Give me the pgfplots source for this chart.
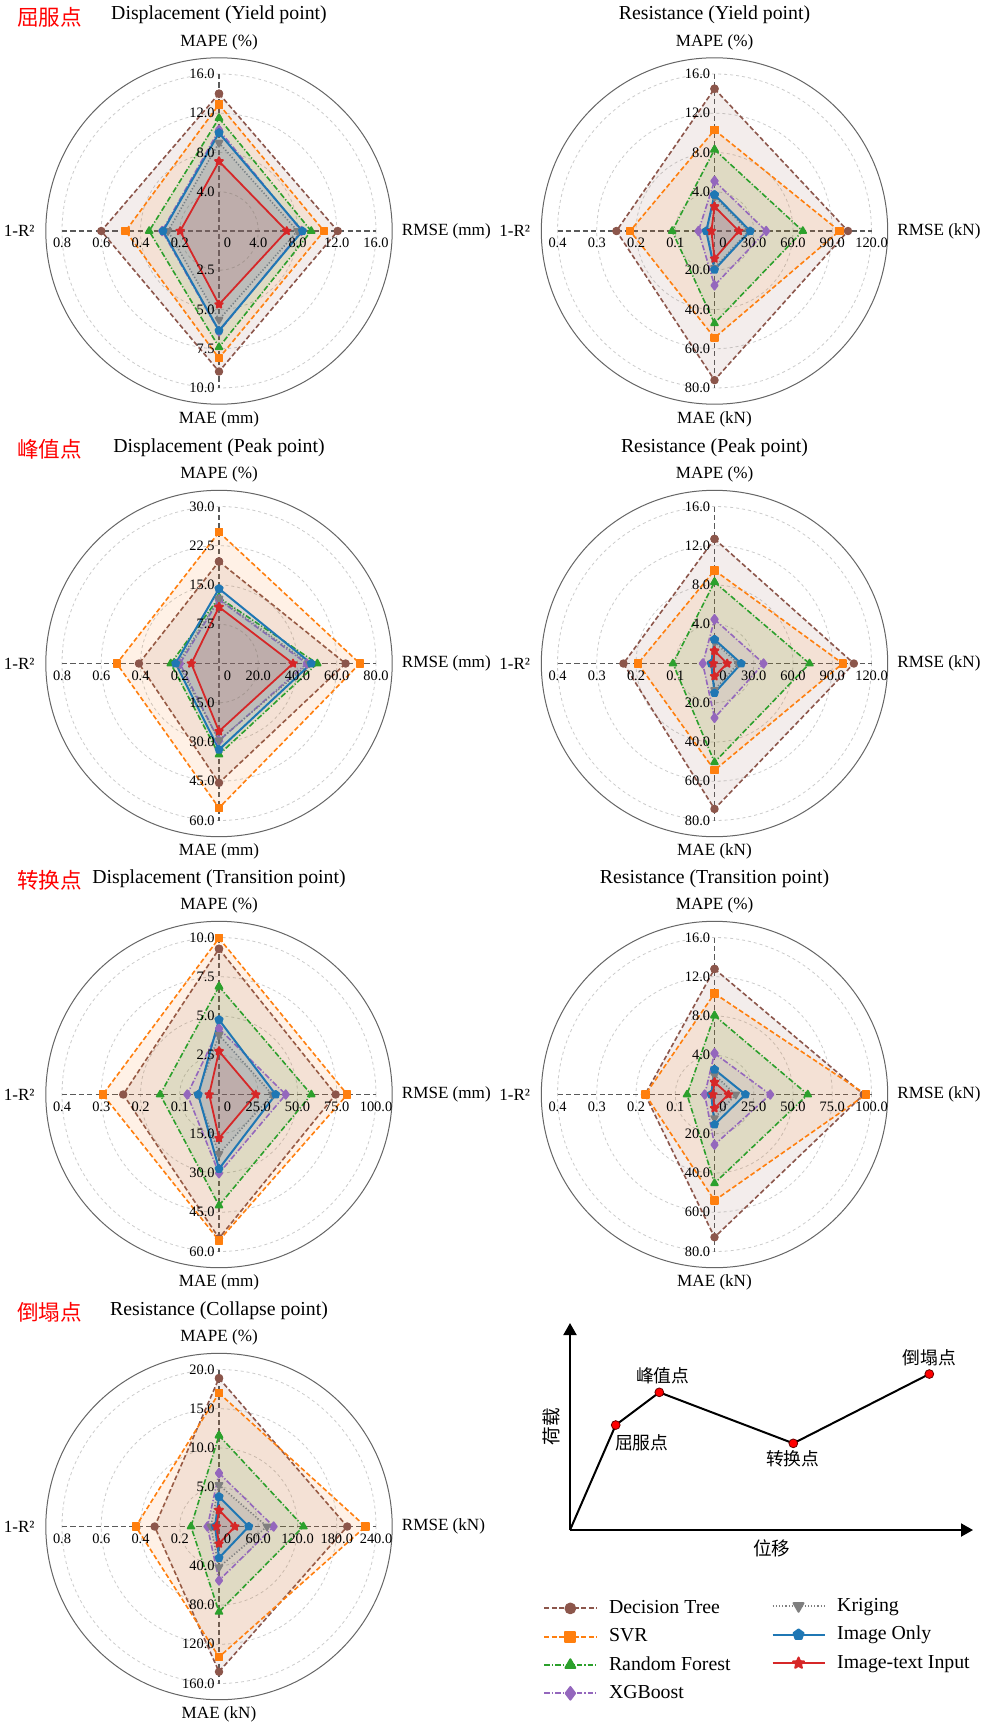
\documentclass[border=0pt]{standalone}
\usepackage{fontspec}
\setmainfont{Liberation Serif}
\newfontfamily\cjk{Noto Sans CJK SC}
\usepackage{pgfplots}
\usepackage{pgfplotstable}
\pgfplotsset{compat=1.18}
\usetikzlibrary{plotmarks,arrows.meta}

\definecolor{cDT}{HTML}{8C564B}
\definecolor{cSVR}{HTML}{FF7F0E}
\definecolor{cRF}{HTML}{2CA02C}
\definecolor{cXGB}{HTML}{9467BD}
\definecolor{cKR}{HTML}{7F7F7F}
\definecolor{cIO}{HTML}{1F77B4}
\definecolor{cIT}{HTML}{D62728}
\definecolor{gridc}{HTML}{CCCCCC}
\definecolor{axc}{HTML}{5A5A5A}
\definecolor{outc}{HTML}{666666}

\pgfdeclareplotmark{fstar}{%
 \pgfpathmoveto{\pgfpointpolar{90}{\pgfplotmarksize}}%
 \pgfpathlineto{\pgfpointpolar{126}{0.45\pgfplotmarksize}}%
 \pgfpathlineto{\pgfpointpolar{162}{\pgfplotmarksize}}%
 \pgfpathlineto{\pgfpointpolar{198}{0.45\pgfplotmarksize}}%
 \pgfpathlineto{\pgfpointpolar{234}{\pgfplotmarksize}}%
 \pgfpathlineto{\pgfpointpolar{270}{0.45\pgfplotmarksize}}%
 \pgfpathlineto{\pgfpointpolar{306}{\pgfplotmarksize}}%
 \pgfpathlineto{\pgfpointpolar{342}{0.45\pgfplotmarksize}}%
 \pgfpathlineto{\pgfpointpolar{18}{\pgfplotmarksize}}%
 \pgfpathlineto{\pgfpointpolar{54}{0.45\pgfplotmarksize}}%
 \pgfpathclose\pgfusepathqfillstroke}

\pgfplotsset{
 rad/.style={line width=0.8pt, fill opacity=0.1, line join=round},
 dt/.style={rad, color=cDT, fill=cDT, dash pattern=on 2.4pt off 1.3pt, mark=*, mark size=1.7pt, mark options={solid, fill opacity=1, fill=cDT}},
 svr/.style={rad, color=cSVR, fill=cSVR, dash pattern=on 2.4pt off 1.3pt, mark=square*, mark size=1.7pt, mark options={solid, fill opacity=1, fill=cSVR}},
 rf/.style={rad, color=cRF, fill=cRF, dash pattern=on 2.8pt off 1pt on 0.6pt off 1pt, mark=triangle*, mark size=2pt, mark options={solid, fill opacity=1, fill=cRF}},
 xgb/.style={rad, color=cXGB, fill=cXGB, dash pattern=on 2.8pt off 1pt on 0.6pt off 1pt, mark=diamond*, mark size=2.2pt, mark options={solid, fill opacity=1, fill=cXGB}},
 kr/.style={rad, color=cKR, fill=cKR, dash pattern=on 0.6pt off 1pt, mark=triangle*, mark size=2pt, mark options={solid, fill opacity=1, fill=cKR, rotate=180}},
 io/.style={rad, color=cIO, fill=cIO, solid, line width=1pt, mark=pentagon*, mark size=1.8pt, mark options={solid, fill opacity=1, fill=cIO}},
 it/.style={rad, color=cIT, fill=cIT, solid, line width=0.9pt, mark=fstar, mark size=2pt, mark options={solid, fill opacity=1, fill=cIT}},
 lh/.style={legend image code/.code={\draw[mark repeat=2,mark phase=2,##1,line width=0.95pt,every mark/.append style={scale=1.45}] plot coordinates {(0pt,0pt) (13pt,0pt) (26pt,0pt)};}},
}

\newcommand{\ftitle}{\fontsize{9.9}{11}\selectfont}
\newcommand{\fax}{\fontsize{8.55}{10}\selectfont}
\newcommand{\ftick}{\fontsize{7.2}{8}\selectfont}
\newcommand{\fleg}{\fontsize{9.9}{11}\selectfont}
\newcommand{\fred}{\cjk\fontsize{10.8}{12}\selectfont}
\newcommand{\fsch}{\cjk\fontsize{8.9}{10}\selectfont}

% rows: MAPE (up), RMSE (right), MAE (down), 1-R2 (left), MAPE again to close
\pgfplotstableread{
dx dy mx DT SVR RF XGB KR IO IT
0 -1 16 14.0 12.9 11.5 10.3 9.0 10.0 7.1
1 0 16 12.1 10.7 9.4 8.4 8.0 8.5 6.9
0 1 10 8.95 8.1 7.4 6.4 5.65 6.35 4.68
-1 0 0.8 0.60 0.476 0.356 0.29 0.26 0.285 0.198
0 -1 16 14.0 12.9 11.5 10.3 9.0 10.0 7.1
}\tA
\pgfplotstableread{
dx dy mx DT SVR RF XGB KR IO IT
0 -1 16 14.5 10.3 8.3 5.1 3.5 3.7 2.5
1 0 120 102 95.5 67.5 39.5 26 27.3 18.6
0 1 80 76 54.4 47 27.7 18.8 19.7 14.1
-1 0 0.4 0.25 0.215 0.108 0.041 0.02 0.021 0.008
0 -1 16 14.5 10.3 8.3 5.1 3.5 3.7 2.5
}\tB
\pgfplotstableread{
dx dy mx DT SVR RF XGB KR IO IT
0 -1 30 19.5 25.1 12.6 12.2 12.4 14.3 10.8
1 0 80 64.5 71.8 50.1 44.7 45.9 47.0 37.7
0 1 60 45.6 55.2 34.8 29.5 29.3 32.9 25.9
-1 0 0.8 0.408 0.521 0.246 0.199 0.21 0.221 0.141
0 -1 30 19.5 25.1 12.6 12.2 12.4 14.3 10.8
}\tC
\pgfplotstableread{
dx dy mx DT SVR RF XGB KR IO IT
0 -1 16 12.7 9.5 8.3 4.5 2.2 2.45 1.3
1 0 120 106.5 98 72.6 37.5 18 20.4 9.7
0 1 80 74.1 54.4 50.3 27.7 13.5 15.0 6.5
-1 0 0.4 0.232 0.195 0.106 0.03 0.008 0.0085 0.003
0 -1 16 12.7 9.5 8.3 4.5 2.2 2.45 1.3
}\tD
\pgfplotstableread{
dx dy mx DT SVR RF XGB KR IO IT
0 -1 10 9.28 9.96 6.88 4.2 3.8 4.76 2.76
1 0 100 74.3 81.7 58.8 42.5 34 36.1 23.4
0 1 60 54.9 55.8 42.4 30.1 22.7 28.4 16.7
-1 0 0.4 0.244 0.296 0.150 0.081 0.055 0.053 0.025
0 -1 10 9.28 9.96 6.88 4.2 3.8 4.76 2.76
}\tE
\pgfplotstableread{
dx dy mx DT SVR RF XGB KR IO IT
0 -1 16 12.8 10.3 8.05 4.2 2.0 2.55 1.26
1 0 100 95.0 96.5 59.4 35.5 13.5 19.7 8.9
0 1 80 72.7 54.0 45.2 25.6 12 15.3 7.0
-1 0 0.4 0.177 0.176 0.07 0.025 0.008 0.0085 0.004
0 -1 16 12.8 10.3 8.05 4.2 2.0 2.55 1.26
}\tF
\pgfplotstableread{
dx dy mx DT SVR RF XGB KR IO IT
0 -1 20 18.9 17.0 11.6 6.8 5.3 3.8 2.1
1 0 240 196 224 129 83.5 73.4 45.5 24.3
0 1 160 148 133 87 55 41.5 32 17.5
-1 0 0.8 0.328 0.424 0.143 0.059 0.042 0.02 0.013
0 -1 20 18.9 17.0 11.6 6.8 5.3 3.8 2.1
}\tG

\newcommand{\rp}[5]{\addplot[#5] table[x expr={#1+157*\thisrow{dx}*\thisrow{#4}/\thisrow{mx}}, y expr={#2+157*\thisrow{dy}*\thisrow{#4}/\thisrow{mx}}]{#3};}
\newcommand{\radarplots}[3]{%
 \rp{#1}{#2}{#3}{DT}{dt}\rp{#1}{#2}{#3}{SVR}{svr}\rp{#1}{#2}{#3}{RF}{rf}%
 \rp{#1}{#2}{#3}{XGB}{xgb}\rp{#1}{#2}{#3}{KR}{kr}\rp{#1}{#2}{#3}{IO}{io}\rp{#1}{#2}{#3}{IT}{it}}

\newcommand{\radargrid}[2]{%
 \foreach \r in {19.625,39.25,58.875,78.5} \draw[gridc, line width=0.4pt, dash pattern=on 1.5pt off 1.5pt] (#1,#2) circle[radius=\r pt];
 \draw[outc, line width=0.5pt] (#1,#2) circle[radius=86.6pt];
 \draw[axc, line width=0.55pt, dash pattern=on 2.6pt off 1.6pt] (#1-157,#2) -- (#1+157,#2);
 \draw[axc, line width=0.55pt, dash pattern=on 2.6pt off 1.6pt] (#1,#2-157) -- (#1,#2+157);}

\newcommand{\radarlabels}[8]{%
 \node[font=\ftitle] at (#1,#2-216) {#3};
 \node[font=\fax] at (#1,#2-189) {MAPE (\%)};
 \node[font=\fax] at (#1,#2+188) {MAE (#8)};
 \node[font=\fax,anchor=east,inner sep=0pt] at (#1-184,#2) {1-R²};
 \node[font=\fax,anchor=west,inner sep=0pt] at (#1+182.5,#2) {RMSE (#8)};
 \foreach \t [count=\i] in {#4} \node[font=\ftick,anchor=east,inner sep=0pt,xshift=-2pt] at (#1,#2-\i*39.25) {\t};
 \foreach \t [count=\i] in {#6} \node[font=\ftick,anchor=east,inner sep=0pt,xshift=-2pt] at (#1,#2+\i*39.25) {\t};
 \foreach \t [count=\i] in {#5} \node[font=\ftick,anchor=north,inner sep=0pt,yshift=-3.5pt] at (#1+\i*39.25,#2) {\t};
 \foreach \t [count=\i] in {#7} \node[font=\ftick,anchor=north,inner sep=0pt,yshift=-3.5pt] at (#1-\i*39.25,#2) {\t};
 \node[font=\ftick,anchor=north,inner sep=0pt,yshift=-3.5pt] at (#1+8.5,#2) {0};}

\begin{document}
\begin{tikzpicture}[x=0.5pt,y=-0.5pt]
\useasboundingbox (0,0) rectangle (992,1733);
\fill[white] (0,0) rectangle (992,1733);
\radargrid{219}{231}
\radargrid{714.5}{231}
\radargrid{219}{663.5}
\radargrid{714.5}{663.5}
\radargrid{219}{1094.5}
\radargrid{714.5}{1094.5}
\radargrid{219}{1526.5}

\begin{axis}[at={(0pt,0pt)}, anchor=north west, x=0.5pt, y=0.5pt, y dir=reverse,
  xmin=0, xmax=992, ymin=0, ymax=1733, hide axis, clip=false]
 \radarplots{219}{231}{\tA}
 \radarplots{714.5}{231}{\tB}
 \radarplots{219}{663.5}{\tC}
 \radarplots{714.5}{663.5}{\tD}
 \radarplots{219}{1094.5}{\tE}
 \radarplots{714.5}{1094.5}{\tF}
 \radarplots{219}{1526.5}{\tG}
 % schematic load-displacement curve
 \addplot[black, line width=1pt, no marks] coordinates {(570,1530) (615.7,1425) (659.3,1392.3) (793.3,1443.3) (929.3,1374)};
 \addplot[only marks, mark=*, mark size=2.2pt, mark options={fill=red, draw=black!60!red, line width=0.4pt}] coordinates {(615.7,1425) (659.3,1392.3) (793.3,1443.3) (929.3,1374)};
\end{axis}

\radarlabels{219}{231}{Displacement (Yield point)}{4.0,8.0,12.0,16.0}{4.0,8.0,12.0,16.0}{2.5,5.0,7.5,10.0}{0.2,0.4,0.6,0.8}{mm}
\radarlabels{714.5}{231}{Resistance (Yield point)}{4.0,8.0,12.0,16.0}{30.0,60.0,90.0,120.0}{20.0,40.0,60.0,80.0}{0.1,0.2,0.3,0.4}{kN}
\radarlabels{219}{663.5}{Displacement (Peak point)}{7.5,15.0,22.5,30.0}{20.0,40.0,60.0,80.0}{15.0,30.0,45.0,60.0}{0.2,0.4,0.6,0.8}{mm}
\radarlabels{714.5}{663.5}{Resistance (Peak point)}{4.0,8.0,12.0,16.0}{30.0,60.0,90.0,120.0}{20.0,40.0,60.0,80.0}{0.1,0.2,0.3,0.4}{kN}
\radarlabels{219}{1094.5}{Displacement (Transition point)}{2.5,5.0,7.5,10.0}{25.0,50.0,75.0,100.0}{15.0,30.0,45.0,60.0}{0.1,0.2,0.3,0.4}{mm}
\radarlabels{714.5}{1094.5}{Resistance (Transition point)}{4.0,8.0,12.0,16.0}{25.0,50.0,75.0,100.0}{20.0,40.0,60.0,80.0}{0.1,0.2,0.3,0.4}{kN}
\radarlabels{219}{1526.5}{Resistance (Collapse point)}{5.0,10.0,15.0,20.0}{60.0,120.0,180.0,240.0}{40.0,80.0,120.0,160.0}{0.2,0.4,0.6,0.8}{kN}

\node[font=\fred, text=red] at (49.5,17) {屈服点};
\node[font=\fred, text=red] at (49.5,449.5) {峰值点};
\node[font=\fred, text=red] at (49.5,880.5) {转换点};
\node[font=\fred, text=red] at (49.5,1312.5) {倒塌点};

% schematic axes and labels
\draw[black, line width=1pt, -{Triangle[length=6pt,width=6.5pt]}] (570,1530) -- (570,1323);
\draw[black, line width=1pt, -{Triangle[length=6pt,width=6.5pt]}] (570,1530) -- (973,1530);
\node[font=\fsch] at (641.7,1442.7) {屈服点};
\node[font=\fsch] at (662.7,1376) {峰值点};
\node[font=\fsch] at (792.7,1458.3) {转换点};
\node[font=\fsch] at (929.3,1357.3) {倒塌点};
\node[font=\cjk\fontsize{9.3}{10}\selectfont, rotate=90] at (551.7,1426.7) {荷载};
\node[font=\cjk\fontsize{9.3}{10}\selectfont] at (771.7,1548.3) {位移};

% legends
\begin{axis}[at={(271.7pt,-798.7pt)}, anchor=north west, hide axis, scale only axis, width=10pt, height=10pt,
  xmin=0, xmax=1, ymin=0, ymax=1,
  legend cell align=left,
  legend style={at={(0,1)}, anchor=north west, draw=none, fill=none, inner sep=0pt, outer sep=0pt,
    row sep=3.15pt, font=\fleg, nodes={inner sep=1pt, text height=7pt, text depth=2pt},
    /tikz/every odd column/.append style={column sep=4.85pt}}]
 \addlegendimage{dt,lh}\addlegendentry{Decision Tree}
 \addlegendimage{svr,lh}\addlegendentry{SVR}
 \addlegendimage{rf,lh}\addlegendentry{Random Forest}
 \addlegendimage{xgb,lh}\addlegendentry{XGBoost}
\end{axis}
\begin{axis}[at={(385.8pt,-797.5pt)}, anchor=north west, hide axis, scale only axis, width=10pt, height=10pt,
  xmin=0, xmax=1, ymin=0, ymax=1,
  legend cell align=left,
  legend style={at={(0,1)}, anchor=north west, draw=none, fill=none, inner sep=0pt, outer sep=0pt,
    row sep=3.3pt, font=\fleg, nodes={inner sep=1pt, text height=7pt, text depth=2pt},
    /tikz/every odd column/.append style={column sep=4.85pt}}]
 \addlegendimage{kr,lh}\addlegendentry{Kriging}
 \addlegendimage{io,lh}\addlegendentry{Image Only}
 \addlegendimage{it,lh}\addlegendentry{Image-text Input}
\end{axis}
\end{tikzpicture}
\end{document}
